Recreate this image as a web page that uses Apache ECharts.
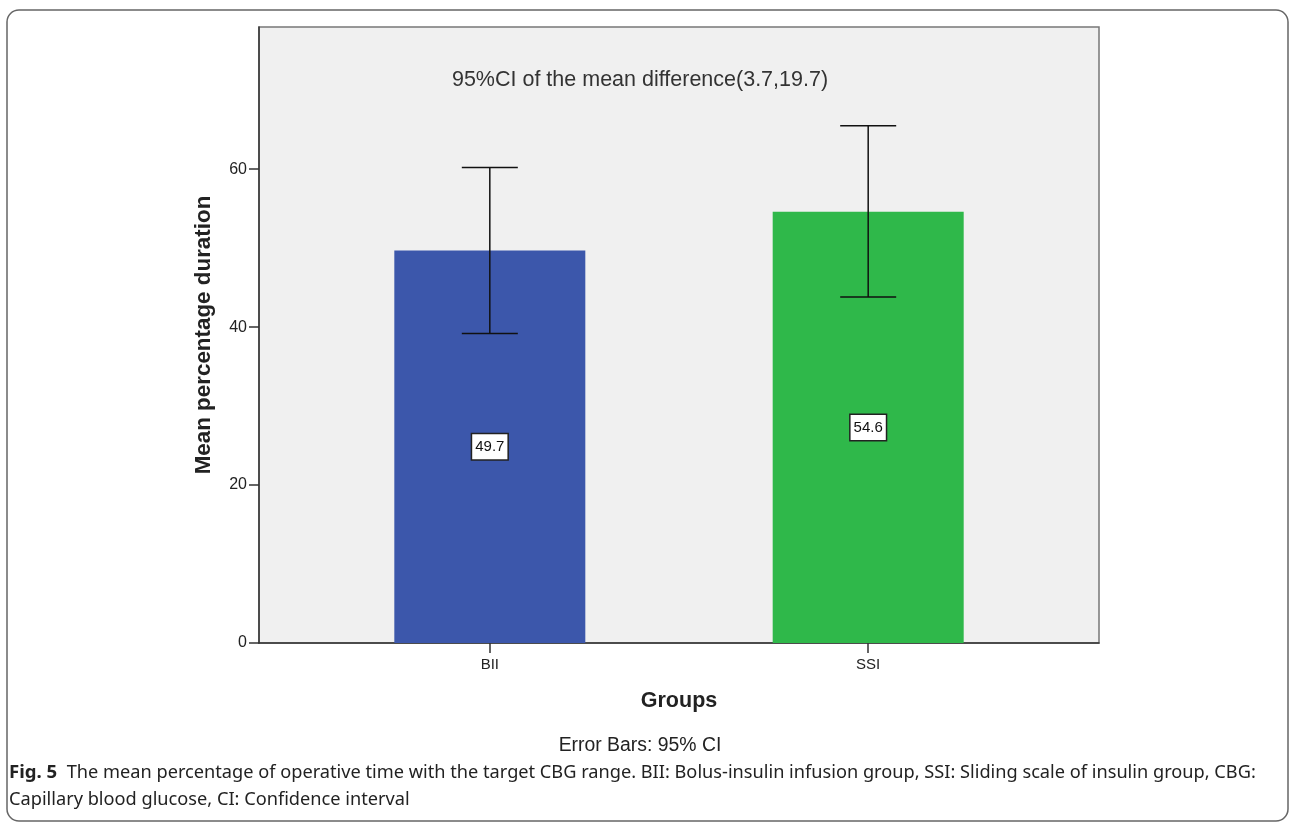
<!DOCTYPE html>
<html>
<head>
<meta charset="utf-8">
<script src="https://cdn.jsdelivr.net/npm/echarts@6/dist/echarts.min.js"></script>
<style>
html,body{margin:0;padding:0;background:#fff;}
#chart{width:1290px;height:822px;}
</style>
</head>
<body>
<div id="chart"></div>
<script>
const categories = ['BII', 'SSI'];
const means = [49.7, 54.6];
const ciLow = [39.2, 43.8];
const ciHigh = [60.2, 65.5];
const barColors = ['#3c57ab', '#2fb84a'];
const yTicks = [0, 20, 40, 60];

const chart = echarts.init(document.getElementById('chart'));
const catPos = categories.map((c, i) => i + 1);

const option = {
  animation: false,
  backgroundColor: '#fff',
  grid: {
    left: 259, right: 191, top: 27, bottom: 179,
    show: true, backgroundColor: '#f0f0f0', borderColor: '#777', borderWidth: 1.5
  },
  xAxis: {
    type: 'value', min: 0.39, max: 2.61,
    name: 'Groups', nameLocation: 'middle', nameGap: 47,
    nameTextStyle: { fontFamily: 'Liberation Sans', fontWeight: 'bold', fontSize: 21.5, color: '#222' },
    splitLine: { show: false },
    axisLine: { show: true, onZero: false, lineStyle: { color: '#333', width: 1.5 } },
    axisTick: { show: true, length: 10, customValues: catPos, lineStyle: { color: '#333', width: 1.5 } },
    axisLabel: {
      customValues: catPos, margin: 14,
      fontFamily: 'Liberation Sans', fontSize: 15, color: '#222',
      formatter: v => categories[Math.round(v) - 1] || ''
    }
  },
  yAxis: {
    type: 'value', min: 0, max: 78,
    name: 'Mean percentage duration', nameLocation: 'middle', nameGap: 44,
    nameTextStyle: { fontFamily: 'Liberation Sans', fontWeight: 'bold', fontSize: 22.4, color: '#222' },
    splitLine: { show: false },
    axisLine: { show: true, lineStyle: { color: '#333', width: 1.5 } },
    axisTick: { show: true, length: 10, customValues: yTicks, lineStyle: { color: '#333', width: 1.5 } },
    axisLabel: {
      customValues: yTicks, margin: 12,
      fontFamily: 'Liberation Sans', fontSize: 16, color: '#222'
    }
  },
  series: [
    {
      type: 'bar',
      barWidth: 191,
      data: catPos.map((p, i) => ({ value: [p, means[i]], itemStyle: { color: barColors[i] } })),
      label: {
        show: true, position: 'inside',
        formatter: p => means[p.dataIndex].toFixed(1),
        fontFamily: 'Liberation Sans', fontSize: 15, color: '#111',
        backgroundColor: '#fff', borderColor: '#222', borderWidth: 1.5,
        padding: [6, 3, 4, 3]
      }
    },
    {
      type: 'custom',
      data: catPos.map((p, i) => [p, ciLow[i], ciHigh[i]]),
      renderItem: (params, api) => {
        const x = api.value(0);
        const lo = api.coord([x, api.value(1)]);
        const hi = api.coord([x, api.value(2)]);
        const hw = 28;
        const style = { stroke: '#111', lineWidth: 1.5 };
        return {
          type: 'group',
          children: [
            { type: 'line', shape: { x1: lo[0], y1: lo[1], x2: hi[0], y2: hi[1] }, style },
            { type: 'line', shape: { x1: hi[0] - hw, y1: hi[1], x2: hi[0] + hw, y2: hi[1] }, style },
            { type: 'line', shape: { x1: lo[0] - hw, y1: lo[1], x2: lo[0] + hw, y2: lo[1] }, style }
          ]
        };
      },
      z: 10
    }
  ],
  graphic: [
    {
      type: 'rect', shape: { x: 7, y: 10, width: 1281, height: 811, r: 12 },
      style: { fill: 'none', stroke: '#666', lineWidth: 1.5 }, silent: true
    },
    {
      type: 'text', x: 640, y: 80,
      style: { text: '95%CI of the mean difference(3.7,19.7)', fontFamily: 'Liberation Sans', fontSize: 21.5, fill: '#333', textAlign: 'center', textVerticalAlign: 'middle' }
    },
    {
      type: 'text', x: 640, y: 746,
      style: { text: 'Error Bars: 95% CI', fontFamily: 'Liberation Sans', fontSize: 19.4, fill: '#222', textAlign: 'center', textVerticalAlign: 'middle' }
    },
    {
      type: 'text', x: 9, y: 773,
      style: {
        text: '{b|Fig. 5}  The mean percentage of operative time with the target CBG range. BII: Bolus-insulin infusion group, SSI: Sliding scale of insulin group, CBG:',
        fontFamily: 'Noto Sans', fontSize: 18.2, fill: '#222', textVerticalAlign: 'middle',
        rich: { b: { fontFamily: 'Noto Sans', fontWeight: 'bold', fontSize: 18.6, fill: '#222' } }
      }
    },
    {
      type: 'text', x: 9, y: 800,
      style: { text: 'Capillary blood glucose, CI: Confidence interval', fontFamily: 'Noto Sans', fontSize: 18.2, fill: '#222', textVerticalAlign: 'middle' }
    }
  ]
};
chart.setOption(option);
</script>
</body>
</html>
